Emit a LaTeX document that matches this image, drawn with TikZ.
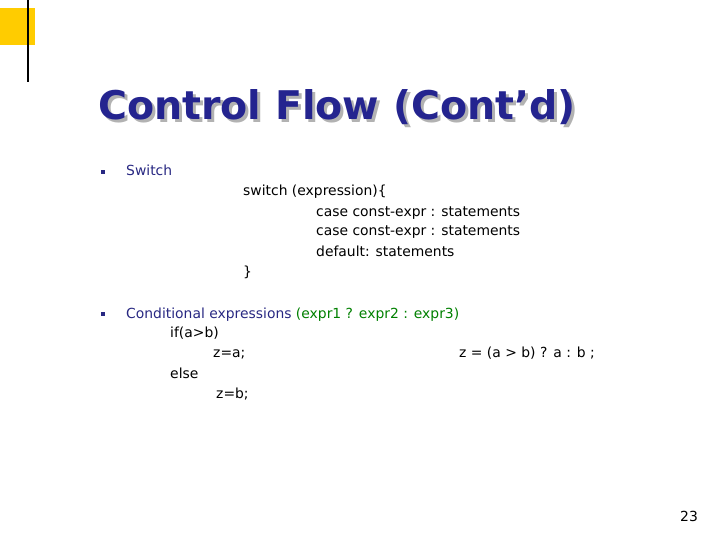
\documentclass[tikz,border=0pt]{standalone}
\usepackage{fontspec}
\setmainfont{DejaVu Sans}
\usetikzlibrary{shadows}
\definecolor{navy}{RGB}{40,40,130}
\definecolor{codegreen}{RGB}{0,128,0}
\definecolor{slideyellow}{RGB}{255,204,0}
\tikzset{
  txt/.style={anchor=base west, inner sep=0pt, font=\fontsize{13.9}{16}\selectfont},
  head/.style={txt, text=navy},
  bullet/.style={fill=navy, minimum size=4pt, inner sep=0pt}
}
\begin{document}
\begin{tikzpicture}[x=1pt,y=-1pt]
  \useasboundingbox (0,0) rectangle (720,540);
  \fill[slideyellow] (0,8) rectangle (35,45);
  \draw[line width=2.5pt] (28,0) -- (28,82);
  % title with shadow
  \node[txt, text=gray!60, font=\fontsize{39.5}{44}\bfseries] at (101,123) {Control Flow (Cont'd)};
  \node[txt, text=navy!90!blue, font=\fontsize{39.5}{44}\bfseries] (title) at (98,120) {Control Flow (Cont'd)};
  % switch
  \node[bullet] (b1) at (103,172) {};
  \node[head] (sw) at (126,176) {Switch};
  \node[txt] (s1) at (243,196) {switch (expression)\{};
  \node[txt] (s2) at (316,216) {case const-expr : statements};
  \node[txt] (s3) at (316,236) {case const-expr : statements};
  \node[txt] (s4) at (316,256) {default: statements};
  \node[txt] (s5) at (243,276) {\}};
  % conditional
  \node[bullet] (b2) at (103,314) {};
  \node[head] (ce) at (126,318) {Conditional expressions \textcolor{codegreen}{(expr1 ? expr2 : expr3)}};
  \node[txt] (c1) at (170,337) {if(a>b)};
  \node[txt] (c2) at (213,357) {z=a;};
  \node[txt] (c3) at (459,357) {z = (a > b) ? a : b ;};
  \node[txt] (c4) at (170,378) {else};
  \node[txt] (c5) at (216,398) {z=b;};
  \node[txt] (num) at (680,521) {23};
\end{tikzpicture}
\end{document}
